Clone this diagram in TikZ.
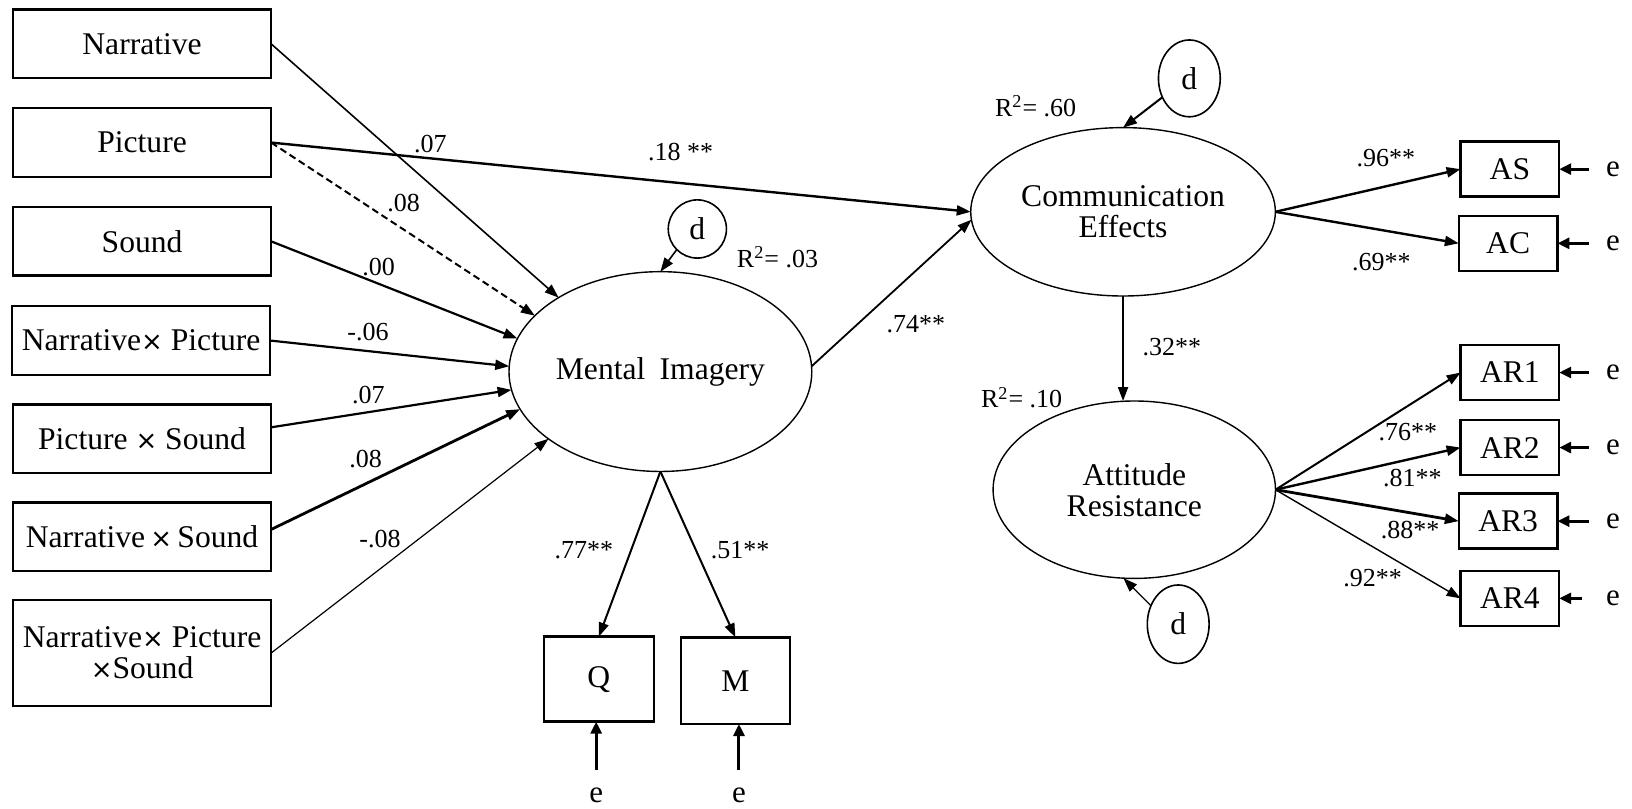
\documentclass[tikz,border=0pt]{standalone}
\usepackage{fontspec}
\setmainfont{Liberation Serif}
\newfontfamily\crossfont{DejaVu Sans}
\usetikzlibrary{arrows.meta,shapes.geometric}
\newcommand\mulsign{{\crossfont\fontsize{13}{13}\selectfont ×}}

\tikzset{
  obs/.style={draw, line width=1.2pt, rectangle, inner sep=0pt, outer sep=0pt,
    font=\fontsize{15.8}{15.5}\selectfont, align=center},
  inbox/.style={obs, minimum width=129.1pt, minimum height=34.3pt},
  indbox/.style={obs, minimum width=49.3pt, minimum height=27.5pt},
  latent/.style={draw, ellipse, line width=0.7pt, inner sep=0pt, outer sep=0pt,
    font=\fontsize{15.8}{15.5}\selectfont, align=center},
  dist/.style={draw, ellipse, line width=0.8pt, inner sep=0pt, outer sep=0pt,
    font=\fontsize{15.8}{15.5}\selectfont},
  errlab/.style={inner sep=0pt, font=\fontsize{15.5}{15.5}\selectfont},
  coef/.style={inner sep=0pt, font=\fontsize{13}{13}\selectfont},
  path/.style={-{Triangle[length=7pt,width=5pt]}, line width=1pt},
  erarr/.style={-{Triangle[length=6pt,width=5.5pt]}, line width=1.5pt},
}

\begin{document}
\begin{tikzpicture}[x=0.5204pt,y=-0.5204pt]
\useasboundingbox (0,0) rectangle (1568,777);

% exogenous factors
\node[inbox] (narr) at (136.5,42.2) {Narrative};
\node[inbox] (pic)  at (136.5,137)  {Picture};
\node[inbox] (snd)  at (136.5,231.9) {Sound};
\node[inbox] (nxp)  at (135.6,327.2) {Narrative\mulsign\ Picture};
\node[inbox] (pxs)  at (136.5,421.5) {Picture \mulsign\ Sound};
\node[inbox] (nxs)  at (136.5,515.6) {Narrative\,\mulsign\,Sound};
\node[inbox, minimum height=53pt] (nps) at (136.5,627.4) {Narrative\mulsign\ Picture\\\mulsign Sound};

% latent constructs
\node[latent, minimum width=151.4pt, minimum height=99.9pt] (mi) at (634.5,357) {Mental\hspace{0.45em}Imagery};
\node[latent, minimum width=152.3pt, minimum height=84.2pt] (ce) at (1079,203.5) {Communication\\Effects};
\node[latent, minimum width=141.2pt, minimum height=88.7pt] (ar) at (1089.8,470.5) {Attitude\\Resistance};

% disturbances
\node[dist, minimum width=29.1pt, minimum height=29.1pt] (dmi) at (670,220) {d};
\node[dist, minimum width=30.9pt, minimum height=38.4pt] (dce) at (1142.7,75.3) {d};
\node[dist, minimum width=30.9pt, minimum height=39.2pt] (dar) at (1132,599.7) {d};

% indicators of mental imagery
\node[obs, minimum width=55pt, minimum height=42.5pt] (q) at (575.4,652.5) {Q};
\node[obs, minimum width=54.4pt, minimum height=43.3pt] (m) at (706.5,654) {M};

% indicators of communication effects and attitude resistance
\node[indbox] (as)  at (1450.7,162.5) {AS};
\node[indbox] (ac)  at (1449,233.8)   {AC};
\node[indbox] (ar1) at (1450.7,357.9) {AR1};
\node[indbox] (ar2) at (1450.7,430)   {AR2};
\node[indbox] (ar3) at (1449,500.7)   {AR3};
\node[indbox] (ar4) at (1450.7,574.9) {AR4};

% error terms
\node[errlab] (eq) at (572.8,764) {e};
\node[errlab] (em) at (710,764) {e};
\coordinate (eqs) at (572.8,740);
\coordinate (ems) at (710,740);
\node[errlab] (eas)  at (1549.8,162.5) {e};
\node[errlab] (eac)  at (1549.8,233.8) {e};
\node[errlab] (ear1) at (1549.8,357.9) {e};
\node[errlab] (ear2) at (1549.8,430)   {e};
\node[errlab] (ear3) at (1549.8,500.7) {e};
\node[errlab] (ear4) at (1549.8,574.9) {e};
\coordinate (sas)  at (1526.4,162.5);
\coordinate (sac)  at (1526.4,233.8);
\coordinate (sar1) at (1526.4,357.9);
\coordinate (sar2) at (1526.4,430);
\coordinate (sar3) at (1526.4,500.7);
\coordinate (sar4) at (1520,574.9);

% paths into mental imagery
\draw[path, line width=0.8pt] (narr.east) -- (mi.144.8);
\draw[path, dash pattern=on 3.5pt off 2pt] (pic.east) -- (mi.156.8);
\draw[path, line width=1.1pt] (snd.east) -- (mi.167.7);
\draw[path, line width=1.1pt] (nxp.east) -- (mi.178.8);
\draw[path, line width=1.1pt] ([yshift=5.7pt]pxs.east) -- (mi.187.4);
\draw[path, line width=1.4pt] ([yshift=3.6pt]nxs.east) -- (mi.195.5);
\draw[path, line width=0.6pt] (nps.east) -- (mi.211.6);

% structural paths
\draw[path, line width=1.2pt] (pic.east) -- (ce.west);
\draw[path, line width=0.9pt] (mi.2) -- (ce.183);
\draw[path] (ce.south) -- (ce.south |- ar.north);

% measurement paths
\draw[path] (mi.south) -- (q.north);
\draw[path] (mi.south) -- (m.north);
\draw[path, line width=1.2pt] (ce.east) -- (as.west);
\draw[path, line width=1.2pt] (ce.east) -- (ac.west);
\draw[path] (ar.east) -- (ar1.west);
\draw[path, line width=1.2pt] (ar.east) -- (ar2.west);
\draw[path, line width=1.4pt] (ar.east) -- (ar3.west);
\draw[path, line width=0.7pt] (ar.east) -- (ar4.west);

% disturbance and error arrows
\draw[path, line width=0.8pt] (dmi.225) -- (mi.north);
\draw[path] (dce.215) -- (ce.north);
\draw[path, line width=0.6pt] (dar.146) -- (ar.263);
\draw[erarr] (eqs) -- (eqs |- q.south);
\draw[erarr] (ems) -- (ems |- m.south);
\draw[erarr] (sas) -- (as.east);
\draw[erarr] (sac) -- (ac.east);
\draw[erarr] (sar1) -- (ar1.east);
\draw[erarr] (sar2) -- (ar2.east);
\draw[erarr] (sar3) -- (ar3.east);
\draw[erarr] (sar4) -- (ar4.east);

% coefficients
\node[coef] (c1)  at (413.5,138.4) {.07};
\node[coef] (c2)  at (387.8,195.4) {.08};
\node[coef] (c3)  at (363.7,256.2) {.00};
\node[coef] (c4)  at (353.5,318.7) {-.06};
\node[coef] (c5)  at (353.9,379.5) {.07};
\node[coef] (c6)  at (351.3,441.3) {.08};
\node[coef] (c7)  at (365.1,518.2) {-.08};
\node[coef] (c8)  at (654,146)     {.18 **};
\node[coef] (c9)  at (880,311.3)   {.74**};
\node[coef] (c10) at (561,528.4)   {.77**};
\node[coef] (c11) at (711,528.4)   {.51**};
\node[coef] (c12) at (1331.4,152.1) {.96**};
\node[coef] (c13) at (1327.2,251.4) {.69**};
\node[coef] (c14) at (1125.8,333.1) {.32**};
\node[coef] (c15) at (1352.6,414.8) {.76**};
\node[coef] (c16) at (1356.9,459.6) {.81**};
\node[coef] (c17) at (1354.7,509.2) {.88**};
\node[coef] (c18) at (1318.7,555.7) {.92**};

% explained variance
\node[coef] (r1) at (747,247)   {R\textsuperscript{2}= .03};
\node[coef] (r2) at (995,102)   {R\textsuperscript{2}= .60};
\node[coef] (r3) at (981.6,382) {R\textsuperscript{2}= .10};
\end{tikzpicture}
\end{document}
